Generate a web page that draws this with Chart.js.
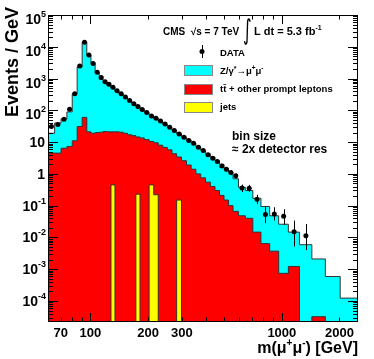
<!DOCTYPE html>
<html>
<head>
<meta charset="utf-8">
<script src="https://cdn.jsdelivr.net/npm/chart.js@4.4.1/dist/chart.umd.min.js"></script>
<style>
    html, body { margin: 0; padding: 0; background: #fff; }
</style>
</head>
<body>
<canvas id="chart" width="374" height="359"></canvas>
<script>
// bin edges of the dimuon mass histogram (GeV), bins widen with mass
const binEdges = [60, 65, 70.2, 75.3, 80.3, 85.2, 90.5, 95.7, 100.6, 105.8, 111.2, 116.5, 122, 128, 134.3,
    141.1, 148.4, 156.1, 164.2, 172.7, 181.5, 191.2, 202.5, 214.1, 226, 238.6, 252.2, 266.7, 282, 299,
    317.1, 335.8, 355.6, 376.9, 399.5, 423, 447.4, 472.5, 498.8, 526.6, 555.9, 593.5, 644.5, 705.4,
    777.7, 863.9, 962.6, 1081.5, 1236, 1435, 1688, 2018, 2600];

// observed events / GeV
const dataValues = [31, 36, 52, 108, 330, 2500, 13800, 5500, 3000, 1580, 1070, 800, 660, 535, 410,
    330, 265, 205, 160, 132, 106, 85, 66, 56, 46, 37, 29.4, 23, 18, 14.3, 11.2, 9.2, 6.9, 5.4, 4.0,
    3.1, 2.44, 1.78, 1.4, 1.1, 0.87, 0.36, 0.355, 0.16, 0.053, 0.055, 0.046, 0.015, 0.0112];

// error bars drawn where they stick out of the marker
const errBins = [36, 37, 38, 39, 40, 41, 42, 43, 44, 45, 46, 47, 48];
const errHigh = [2.75, 2.05, 1.63, 1.3, 1.03, 0.46, 0.45, 0.22, 0.093, 0.089, 0.077, 0.034, 0.0265];
const errLow = [2.15, 1.52, 1.18, 0.91, 0.72, 0.27, 0.27, 0.113, 0.028, 0.034, 0.025, 0.0052, 0.004];

// stacked MC: Z/gamma* on top of everything (total)
const stackTotal = [19, 40, 54, 89, 328, 2300, 14000, 5500, 3100, 1500, 950, 760, 600, 490, 400,
    320, 260, 205, 165, 132, 108, 86, 69, 56, 45, 36, 29, 23, 18.5, 14.5, 11.5, 9.2, 7.2, 5.6, 4.3,
    3.4, 2.6, 2.0, 1.5, 1.15, 0.7, 0.38, 0.3, 0.17, 0.094, 0.048, 0.026, 0.0147, 0.0059, 0.0021,
    0.00059, 0.000123];

// ttbar + other prompt leptons (+ jets)
const stackPrompt = [4.5, 4.5, 6.4, 7.3, 11, 31, 60, 21, 19, 20, 20.5, 21.5, 21, 21, 21,
    20.5, 19, 17, 16, 14.5, 13.5, 12, 10.5, 9.5, 8, 6.8, 5.7, 4.3, 3.4, 2.6, 1.9, 1.4, 1.0, 0.75, 0.55,
    0.4, 0.3, 0.21, 0.15, 0.1, 0.066, 0.048, 0.04, 0.0147, 0.0064, 0.0037, 0.00074, 0.00122, 0,
    0.000032, 0, 0];

// jets
const stackJets = [0, 0, 0, 0, 0, 0, 0, 0, 0, 0, 0, 0, 0, 0.45, 0,
    0, 0, 0, 0, 0.23, 0, 0, 0.45, 0.22, 0, 0, 0, 0, 0.15, 0, 0, 0, 0, 0, 0,
    0, 0, 0, 0, 0, 0, 0, 0, 0, 0, 0, 0, 0, 0, 0, 0, 0];

const xTickLabels = [70, 100, 200, 300, 1000, 2000];
const yTickExps = [-4, -3, -2, -1, 0, 1, 2, 3, 4, 5];

const EMPTY = 1e-7; // empty bins sit below the axis
const cyan = '#00ffff';
const red = '#ff0000';
const yellow = '#ffff00';
const outline = '#333333';

function font(size) {
    return `bold ${size}px "Liberation Sans", Arial, sans-serif`;
}

function histPoints(values) {
    const pts = values.map((v, i) => ({ x: binEdges[i], y: v > 0 ? v : EMPTY }));
    const last = values[values.length - 1];
    pts.push({ x: binEdges[values.length], y: last > 0 ? last : EMPTY });
    return pts;
}

function dataPoints() {
    return dataValues.map((v, i) => ({ x: (binEdges[i] + binEdges[i + 1]) / 2, y: v }));
}

// text with super/subscript pieces: [text, size, dy]
function drawRich(ctx, x, y, parts, align) {
    let w = 0;
    parts.forEach(p => {
        ctx.font = font(p[1]);
        w += ctx.measureText(p[0]).width;
    });
    let cx = align === 'right' ? x - w : x;
    parts.forEach(p => {
        ctx.font = font(p[1]);
        ctx.fillText(p[0], cx, y + (p[2] || 0));
        cx += ctx.measureText(p[0]).width;
    });
}

const rootFrame = {
    id: 'rootFrame',
    afterDatasetsDraw(chart) {
        const { ctx, chartArea: a, scales: { x, y } } = chart;
        ctx.save();

        // error bars
        ctx.strokeStyle = '#000';
        ctx.lineWidth = 1;
        errBins.forEach((b, j) => {
            const px = Math.round(x.getPixelForValue((binEdges[b] + binEdges[b + 1]) / 2)) + 0.5;
            ctx.beginPath();
            ctx.moveTo(px, y.getPixelForValue(errHigh[j]));
            ctx.lineTo(px, y.getPixelForValue(errLow[j]));
            ctx.stroke();
        });

        // frame
        ctx.strokeRect(a.left + 0.5, a.top + 0.5, a.right - a.left - 1, a.bottom - a.top - 1);

        // inward ticks
        ctx.beginPath();
        for (let k = -5; k <= 5; k++) {
            for (let m = 1; m <= 9; m++) {
                const v = m * Math.pow(10, k);
                if (v < y.min || v > y.max) continue;
                const py = Math.round(y.getPixelForValue(v)) + 0.5;
                const len = m === 1 ? 10 : 5;
                ctx.moveTo(a.left, py);
                ctx.lineTo(a.left + len, py);
                ctx.moveTo(a.right, py);
                ctx.lineTo(a.right - len, py);
            }
        }
        for (let k = 1; k <= 3; k++) {
            for (let m = 1; m <= 9; m++) {
                const v = m * Math.pow(10, k);
                if (v < x.min || v > x.max) continue;
                const px = Math.round(x.getPixelForValue(v)) + 0.5;
                const len = m === 1 ? 9 : 4.5;
                ctx.moveTo(px, a.bottom);
                ctx.lineTo(px, a.bottom - len);
                ctx.moveTo(px, a.top);
                ctx.lineTo(px, a.top + len);
            }
        }
        ctx.stroke();

        // tick labels
        ctx.fillStyle = '#000';
        ctx.textBaseline = 'alphabetic';
        ctx.textAlign = 'center';
        ctx.font = font(13);
        xTickLabels.forEach(v => {
            ctx.fillText(String(v), x.getPixelForValue(v), 337);
        });
        ctx.textAlign = 'left';
        yTickExps.forEach(k => {
            const py = y.getPixelForValue(Math.pow(10, k));
            const base = py + (k >= 2 ? 9 : 5);
            if (k === 0) drawRich(ctx, 45, base, [['1', 14]], 'right');
            else if (k === 1) drawRich(ctx, 45, base, [['10', 14]], 'right');
            else drawRich(ctx, 46, base, [['10', 14], [String(k), 9, -7]], 'right');
        });

        // axis titles
        drawRich(ctx, 358, 353, [['m(\u03bc', 16], ['+', 10, -7], ['\u03bc', 16], ['-', 10, -7], [') [GeV]', 16]], 'right');
        ctx.save();
        ctx.translate(18, 7);
        ctx.rotate(-Math.PI / 2);
        ctx.textAlign = 'right';
        ctx.font = font(18);
        ctx.fillText('Events / GeV', 0, 0);
        ctx.restore();

        // header
        ctx.textAlign = 'left';
        ctx.font = font(10);
        ctx.fillText('CMS  \u221as = 7 TeV', 163, 35);
        ctx.save();
        ctx.translate(243, 39);
        ctx.scale(0.75, 1.25);
        ctx.font = 'normal 22px "DejaVu Sans", sans-serif';
        ctx.fillText('\u222b', 0, 0);
        ctx.restore();
        drawRich(ctx, 254, 35, [['L dt = 5.3 fb', 11], ['-1', 7, -5]], 'left');

        // legend
        ctx.beginPath();
        ctx.arc(202, 51.5, 2.5, 0, Math.PI * 2);
        ctx.fill();
        ctx.beginPath();
        ctx.moveTo(202.5, 45);
        ctx.lineTo(202.5, 58);
        ctx.stroke();
        ctx.font = font(9.5);
        ctx.fillText('DATA', 220, 56);

        ctx.strokeStyle = '#888';
        [[cyan, 65], [red, 84], [yellow, 102]].forEach(([c, top]) => {
            ctx.fillStyle = c;
            ctx.fillRect(184, top, 29, 11);
            ctx.strokeRect(184.5, top + 0.5, 28, 10);
        });
        ctx.fillStyle = '#000';
        drawRich(ctx, 220, 74, [['Z/\u03b3', 9.5], ['*', 7, -3], ['\u2192\u03bc', 9.5], ['+', 6.5, -4], ['\u03bc', 9.5], ['-', 6.5, -4]], 'left');
        ctx.font = font(9.5);
        ctx.fillText('tt\u0304 + other prompt leptons', 220, 92);
        ctx.fillText('jets', 220, 110);

        ctx.font = font(12);
        ctx.fillText('bin size', 232, 140);
        ctx.fillText('\u2248 2x detector res', 232, 153);

        ctx.restore();
    },
};

// 'before' keeps each bin's value flat across [edge_i, edge_i+1]
const histStyle = {
    stepped: 'before',
    fill: 'start',
    borderColor: outline,
    borderWidth: 1,
    pointRadius: 0,
};

new Chart(document.getElementById('chart'), {
    type: 'line',
    data: {
        datasets: [
            {
                ...histStyle,
                label: 'Z/gamma*',
                data: histPoints(stackTotal),
                backgroundColor: cyan,
                order: 3,
            },
            {
                ...histStyle,
                label: 'ttbar + other prompt leptons',
                data: histPoints(stackPrompt),
                backgroundColor: red,
                order: 2,
            },
            {
                ...histStyle,
                label: 'jets',
                data: histPoints(stackJets),
                backgroundColor: yellow,
                order: 1,
            },
            {
                label: 'DATA',
                data: dataPoints(),
                showLine: false,
                pointRadius: 2.5,
                pointBorderWidth: 0,
                pointBackgroundColor: '#000',
                order: 0,
            },
        ],
    },
    options: {
        responsive: false,
        animation: false,
        layout: { padding: { left: 0, right: 16, top: 15, bottom: 0 } },
        plugins: {
            legend: { display: false },
            tooltip: { enabled: false },
        },
        scales: {
            x: {
                type: 'logarithmic',
                min: 60,
                max: 2500,
                grid: { display: false },
                border: { display: false },
                ticks: { display: false },
                afterFit: s => { s.height = 37; },
            },
            y: {
                type: 'logarithmic',
                min: 2.18e-5,
                max: 1e5,
                grid: { display: false },
                border: { display: false },
                ticks: { display: false },
                afterFit: s => { s.width = 48; },
            },
        },
    },
    plugins: [rootFrame],
});
</script>
</body>
</html>
